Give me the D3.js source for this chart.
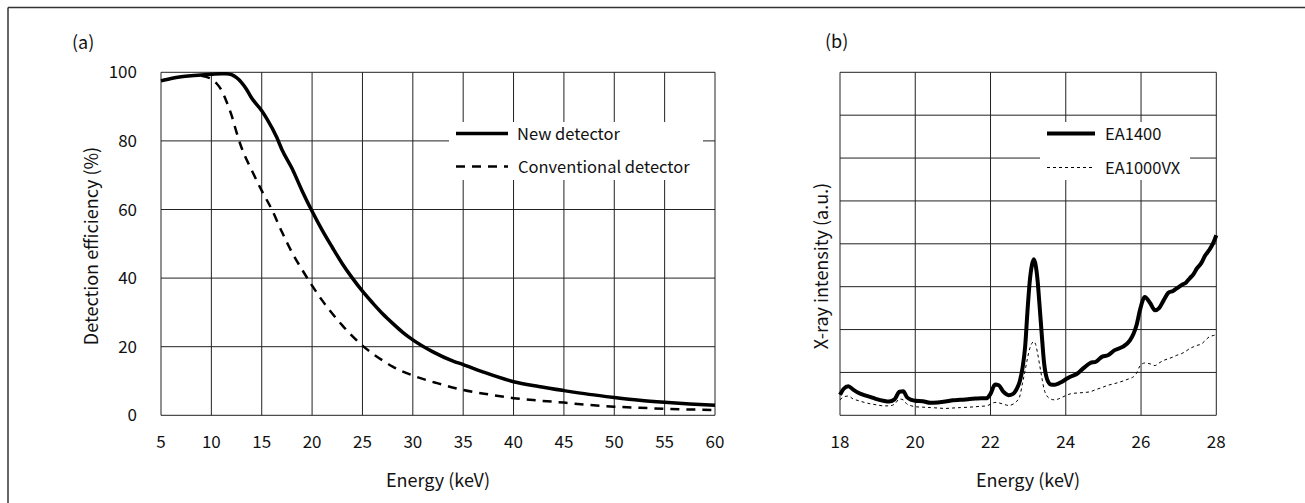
<!DOCTYPE html>
<html>
<head>
  <script src="https://cdnjs.cloudflare.com/ajax/libs/d3/7.8.5/d3.min.js"></script>
  <style>
    body { margin: 0; background: #fff; }
    svg { display: block; font-family: "Noto Sans CJK JP", "Noto Sans", sans-serif; }
    .grid line { stroke: #222; stroke-width: 1; }
    .tick-label { font-size: 17px; fill: #111; }
    .title { font-size: 18px; fill: #111; }
    .legend-text { font-size: 16.5px; fill: #111; }
  </style>
</head>
<body>
  <svg id="chart" width="1305" height="503"></svg>
  <script>
    // (a) detection efficiency vs energy
    var energyA = [5, 6, 7, 8, 9, 10, 11, 11.5, 12, 13, 13.5, 14, 15, 15.5, 16.5, 17, 18, 19, 20, 21, 22, 23, 24, 25, 26, 27, 28, 29, 30, 32, 34, 35, 37, 40, 42.5, 45, 47.5, 50, 52.5, 55, 57.5, 60];
    var newDetector = [97.5, 98.2, 98.7, 99.0, 99.2, 99.4, 99.6, 99.6, 99.3, 97, 95, 92.5, 88.8, 86.5, 81, 77.5, 72, 65.5, 59.5, 54, 49, 44.2, 40, 36.2, 32.8, 29.6, 26.8, 24.2, 22, 18.5, 15.8, 14.8, 12.6, 9.8, 8.4, 7.2, 6.1, 5.2, 4.4, 3.8, 3.3, 2.9];
    var energyConv = [9, 10, 10.5, 11, 11.5, 12, 12.5, 13, 14, 15, 16, 17, 18, 19, 20, 21, 22, 23, 24, 25, 26, 27, 28, 30, 32.5, 35, 37.5, 40, 42.5, 45, 47.5, 50, 52.5, 55, 57.5, 60];
    var convDetector = [99.0, 98.0, 96.8, 94.8, 91.5, 87.5, 82.5, 78, 71.5, 65.5, 60, 53.5, 47.5, 42.5, 37.8, 33.5, 29.7, 26.2, 23.1, 20.3, 18, 16, 14.2, 11.6, 9.3, 7.4, 6.1, 5.0, 4.3, 3.7, 3.0, 2.5, 2.2, 1.9, 1.7, 1.5];
    var xTicksA = [5, 10, 15, 20, 25, 30, 35, 40, 45, 50, 55, 60];
    var yTicksA = [0, 20, 40, 60, 80, 100];

    // (b) X-ray spectra
    var energyB = [18.0, 18.1, 18.22, 18.35, 18.5, 18.65, 18.8, 19.0, 19.15, 19.3, 19.45, 19.58, 19.68, 19.78, 19.9, 20.0, 20.2, 20.4, 20.6, 20.8, 21.0, 21.2, 21.45, 21.6, 21.75, 21.9, 22.0, 22.12, 22.22, 22.34, 22.48, 22.6, 22.7, 22.78, 22.85, 22.92, 22.98, 23.04, 23.1, 23.15, 23.2, 23.25, 23.3, 23.36, 23.42, 23.5, 23.6, 23.7, 23.8, 23.9, 24.0, 24.12, 24.3, 24.47, 24.65, 24.8, 24.97, 25.12, 25.3, 25.52, 25.7, 25.8, 25.88, 25.97, 26.1, 26.24, 26.37, 26.48, 26.6, 26.73, 26.85, 26.95, 27.08, 27.2, 27.3, 27.4, 27.48, 27.6, 27.7, 27.83, 27.92, 28.0];
    var ea1400 = [0.48, 0.62, 0.68, 0.6, 0.52, 0.47, 0.43, 0.37, 0.34, 0.32, 0.37, 0.55, 0.56, 0.42, 0.36, 0.34, 0.33, 0.29, 0.3, 0.32, 0.35, 0.36, 0.38, 0.39, 0.4, 0.4, 0.5, 0.72, 0.7, 0.55, 0.47, 0.5, 0.62, 0.8, 1.1, 1.6, 2.4, 3.1, 3.5, 3.64, 3.5, 3.15, 2.6, 1.9, 1.25, 0.85, 0.72, 0.71, 0.74, 0.78, 0.84, 0.9, 0.97, 1.1, 1.22, 1.25, 1.37, 1.4, 1.52, 1.6, 1.74, 1.9, 2.1, 2.45, 2.76, 2.62, 2.45, 2.5, 2.68, 2.86, 2.9, 2.96, 3.04, 3.1, 3.2, 3.3, 3.42, 3.55, 3.72, 3.88, 4.02, 4.2];
    var ea1000vx = [0.36, 0.43, 0.45, 0.38, 0.34, 0.3, 0.27, 0.24, 0.22, 0.22, 0.26, 0.38, 0.36, 0.26, 0.22, 0.2, 0.19, 0.18, 0.17, 0.16, 0.17, 0.18, 0.19, 0.2, 0.21, 0.22, 0.26, 0.3, 0.29, 0.26, 0.23, 0.26, 0.33, 0.45, 0.75, 1.05, 1.32, 1.55, 1.68, 1.72, 1.65, 1.45, 1.2, 0.9, 0.62, 0.45, 0.38, 0.36, 0.38, 0.42, 0.46, 0.5, 0.52, 0.53, 0.55, 0.6, 0.65, 0.7, 0.74, 0.8, 0.86, 0.9, 0.98, 1.15, 1.22, 1.2, 1.16, 1.22, 1.28, 1.32, 1.36, 1.4, 1.44, 1.5, 1.56, 1.6, 1.63, 1.66, 1.74, 1.84, 1.86, 1.88];
    var xTicksB = [18, 20, 22, 24, 26, 28];
    var yGridB = [0, 1, 2, 3, 4, 5, 6, 7, 8];

    var svg = d3.select("#chart");

    // outer frame (top and left only)
    svg.append("line").attr("x1", 8).attr("y1", 7.5).attr("x2", 1305).attr("y2", 7.5)
      .attr("stroke", "#333").attr("stroke-width", 1.5);
    svg.append("line").attr("x1", 8).attr("y1", 7.5).attr("x2", 8).attr("y2", 503)
      .attr("stroke", "#333").attr("stroke-width", 1.5);

    // ---------- panel (a) ----------
    var xA = d3.scaleLinear().domain([5, 60]).range([161, 715]);
    var yA = d3.scaleLinear().domain([0, 100]).range([415.3, 72.3]);

    var gA = svg.append("g");
    var gridA = gA.append("g").attr("class", "grid");
    gridA.selectAll(".v").data(xTicksA).enter().append("line")
      .attr("x1", xA).attr("x2", xA).attr("y1", yA(0)).attr("y2", yA(100));
    gridA.selectAll(".h").data(yTicksA).enter().append("line")
      .attr("x1", xA(5)).attr("x2", xA(60)).attr("y1", yA).attr("y2", yA);

    gA.selectAll(".xt").data(xTicksA).enter().append("text")
      .attr("class", "tick-label").attr("x", xA).attr("y", 447.5)
      .attr("text-anchor", "middle").text(function(d) { return d; });
    gA.selectAll(".yt").data(yTicksA).enter().append("text")
      .attr("class", "tick-label").attr("x", 137).attr("y", function(d) { return yA(d) + 6; })
      .attr("text-anchor", "end").text(function(d) { return d; });

    gA.append("text").attr("class", "title").attr("x", 438).attr("y", 487)
      .attr("text-anchor", "middle").text("Energy (keV)");
    gA.append("text").attr("class", "title")
      .attr("transform", "translate(98,246) rotate(-90)")
      .attr("text-anchor", "middle").text("Detection efficiency (%)");
    gA.append("text").attr("class", "title").attr("x", 72).attr("y", 49).text("(a)");

    var lineA = d3.line().curve(d3.curveMonotoneX)
      .x(function(d) { return xA(d[0]); }).y(function(d) { return yA(d[1]); });

    gA.append("path").datum(d3.zip(energyConv, convDetector))
      .attr("d", lineA).attr("fill", "none").attr("stroke", "#000")
      .attr("stroke-width", 2.5).attr("stroke-dasharray", "9,7");
    gA.append("path").datum(d3.zip(energyA, newDetector))
      .attr("d", lineA).attr("fill", "none").attr("stroke", "#000")
      .attr("stroke-width", 3.5);

    // legend (a)
    var legA = gA.append("g");
    legA.append("rect").attr("x", 449).attr("y", 122).attr("width", 254).attr("height", 58).attr("fill", "#fff");
    legA.append("line").attr("x1", 456).attr("x2", 508).attr("y1", 133.5).attr("y2", 133.5)
      .attr("stroke", "#000").attr("stroke-width", 3.5);
    legA.append("line").attr("x1", 456).attr("x2", 508).attr("y1", 166.5).attr("y2", 166.5)
      .attr("stroke", "#000").attr("stroke-width", 2.5).attr("stroke-dasharray", "9,7");
    legA.append("text").attr("class", "legend-text").attr("x", 517).attr("y", 139.5).text("New detector");
    legA.append("text").attr("class", "legend-text").attr("x", 518).attr("y", 172.5).text("Conventional detector");

    // ---------- panel (b) ----------
    var xB = d3.scaleLinear().domain([18, 28]).range([840, 1216.3]);
    var yB = d3.scaleLinear().domain([0, 8]).range([415.3, 72.3]);

    var gB = svg.append("g");
    var gridB = gB.append("g").attr("class", "grid");
    gridB.selectAll(".v").data(xTicksB).enter().append("line")
      .attr("x1", xB).attr("x2", xB).attr("y1", yB(0)).attr("y2", yB(8));
    gridB.selectAll(".h").data(yGridB).enter().append("line")
      .attr("x1", xB(18)).attr("x2", xB(28)).attr("y1", yB).attr("y2", yB);

    gB.selectAll(".xt").data(xTicksB).enter().append("text")
      .attr("class", "tick-label").attr("x", xB).attr("y", 447.5)
      .attr("text-anchor", "middle").text(function(d) { return d; });

    gB.append("text").attr("class", "title").attr("x", 1028).attr("y", 487)
      .attr("text-anchor", "middle").text("Energy (keV)");
    gB.append("text").attr("class", "title")
      .attr("transform", "translate(828,266) rotate(-90)")
      .attr("text-anchor", "middle").text("X-ray intensity (a.u.)");
    gB.append("text").attr("class", "title").attr("x", 825).attr("y", 48).text("(b)");

    var lineB = d3.line().curve(d3.curveMonotoneX)
      .x(function(d) { return xB(d[0]); }).y(function(d) { return yB(d[1]); });

    gB.append("path").datum(d3.zip(energyB, ea1000vx))
      .attr("d", lineB).attr("fill", "none").attr("stroke", "#000")
      .attr("stroke-width", 1).attr("stroke-dasharray", "3,3");
    gB.append("path").datum(d3.zip(energyB, ea1400))
      .attr("d", lineB).attr("fill", "none").attr("stroke", "#000")
      .attr("stroke-width", 4).attr("stroke-linejoin", "round");

    // legend (b)
    var legB = gB.append("g");
    legB.append("rect").attr("x", 1040).attr("y", 122).attr("width", 150).attr("height", 58).attr("fill", "#fff");
    legB.append("line").attr("x1", 1047).attr("x2", 1095).attr("y1", 133.5).attr("y2", 133.5)
      .attr("stroke", "#000").attr("stroke-width", 4);
    legB.append("line").attr("x1", 1047).attr("x2", 1095).attr("y1", 167.5).attr("y2", 167.5)
      .attr("stroke", "#000").attr("stroke-width", 1).attr("stroke-dasharray", "3,3");
    legB.append("text").attr("class", "legend-text").attr("x", 1105).attr("y", 139.5).text("EA1400");
    legB.append("text").attr("class", "legend-text").attr("x", 1105).attr("y", 173.5).text("EA1000VX");
  </script>
</body>
</html>
